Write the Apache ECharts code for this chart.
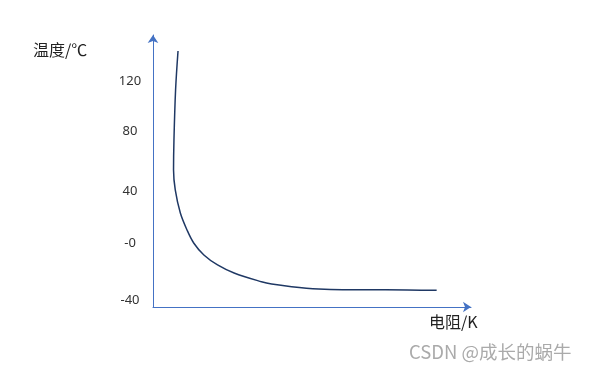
<!DOCTYPE html>
<html><head><meta charset="utf-8">
<script src="https://cdn.jsdelivr.net/npm/echarts@6/dist/echarts.min.js"></script>
<style>html,body{margin:0;padding:0;background:#fff}#c{width:594px;height:375px}</style>
</head><body><div id="c"></div>
<script>
const yTitle = '温度/℃';
const xTitle = '电阻/K';
const watermark = 'CSDN @成长的蜗牛';
const yTickLabels = ['-40', '-0', '40', '80', '120'];
const yTickValues = [-40, 1.6, 39.4, 83.4, 120];
const resistance = [7.87, 7.1, 6.59, 6.46, 7.0, 8.6, 10.7, 12.8, 16.0, 20.3, 25.5, 34.1, 37.3, 43.6, 52.1, 59.6, 73.2, 89.2];
const temperature = [142.5, 113.9, 77.3, 55.3, 40.7, 23.8, 11.4, 1.9, -6.9, -14.2, -20.1, -26.5, -28.2, -30.1, -31.8, -32.3, -32.3, -32.8];

const axisColor = '#4472C4';
const chart = echarts.init(document.getElementById('c'), null, {renderer: 'canvas'});
chart.setOption({
  animation: false,
  backgroundColor: '#fff',
  grid: {left: 153, top: 35, right: 123, bottom: 68},
  xAxis: {
    type: 'value', min: 0, max: 100,
    axisLine: {show: true, onZero: false, symbol: ['none', 'arrow'], symbolSize: [8, 8], lineStyle: {color: axisColor, width: 1}},
    axisTick: {show: false}, axisLabel: {show: false}, splitLine: {show: false}
  },
  yAxis: {
    type: 'value', min: -45, max: 154.2,
    axisLine: {show: true, onZero: false, symbol: ['none', 'arrow'], symbolSize: [8, 8], lineStyle: {color: axisColor, width: 1}},
    axisTick: {show: false},
    splitLine: {show: false},
    axisLabel: {
      customValues: yTickValues,
      margin: 23, align: 'center',
      color: '#333', fontSize: 13, fontFamily: 'Noto Sans',
      formatter: function (v) {
        let best = 0;
        for (let i = 1; i < yTickValues.length; i++) {
          if (Math.abs(yTickValues[i] - v) < Math.abs(yTickValues[best] - v)) best = i;
        }
        return yTickLabels[best];
      }
    }
  },
  series: [{
    type: 'line',
    data: resistance.map((x, i) => [x, temperature[i]]),
    showSymbol: false,
    smooth: 0.35,
    lineStyle: {color: '#1F3864', width: 1.5}
  }],
  graphic: [
    {type: 'text', left: 33, top: 42, style: {text: yTitle, fontSize: 16, fontFamily: 'Noto Sans CJK SC', fill: '#222'}},
    {type: 'text', left: 429, top: 314, style: {text: xTitle, fontSize: 16, fontFamily: 'Noto Sans CJK SC', fill: '#222'}},
    {type: 'text', left: 409, top: 343, style: {text: watermark, fontSize: 18.5, fontFamily: 'Noto Sans CJK SC', fill: '#aaa'}}
  ]
});
</script>
</body></html>
